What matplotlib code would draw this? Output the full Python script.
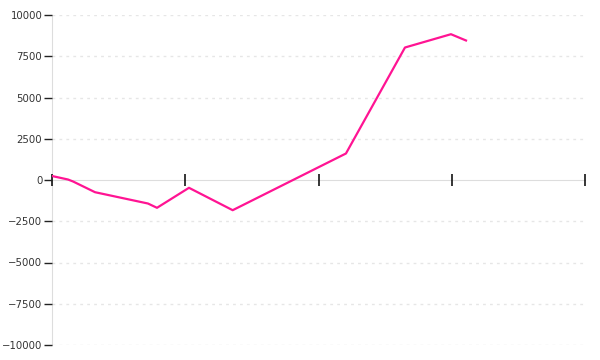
import matplotlib
matplotlib.use("Agg")
import matplotlib.pyplot as plt

# x in tick units (ticks at 0..4), y values
xs = [0, 0.12, 0.158, 0.323, 0.72, 0.788, 1.028, 1.356, 2.206, 2.649, 2.994, 3.107]
ys = [242, 30, -90, -740, -1425, -1685, -473, -1830, 1606, 8030, 8836, 8455]

yticks = [-10000, -7500, -5000, -2500, 0, 2500, 5000, 7500, 10000]
xticks = [0, 1, 2, 3, 4]

fig = plt.figure(figsize=(6, 3.6), dpi=100)
ax = fig.add_axes([52 / 600, 15 / 360, 533 / 600, 330 / 360])

for v in yticks:
    if v != 0:
        ax.axhline(v, color="#e6e6e6", lw=1, ls=(0, (2, 3)), zorder=0)

ax.plot(xs, ys, color="#ff1493", lw=1.6, zorder=3)

ax.set_xlim(0, 4)
ax.set_ylim(-10000, 10000)
ax.set_yticks(yticks)
ax.set_yticklabels([str(v).replace("-", "\u2212") for v in yticks])
ax.set_xticks(xticks)
ax.set_xticklabels([])

for s in ["top", "right"]:
    ax.spines[s].set_visible(False)
ax.spines["left"].set_color("#dddddd")
ax.spines["bottom"].set_color("#dddddd")
ax.spines["bottom"].set_position(("data", 0))
ax.spines["left"].set_zorder(1)
ax.spines["bottom"].set_zorder(1)
ax.set_axisbelow(False)

ax.tick_params(axis="y", length=6, width=1, color="#222222", labelsize=7.3,
               labelcolor="#333333", pad=1)
ax.tick_params(axis="x", length=8, width=1.1, color="#000000", direction="inout")

fig.savefig("out.png", dpi=100)
